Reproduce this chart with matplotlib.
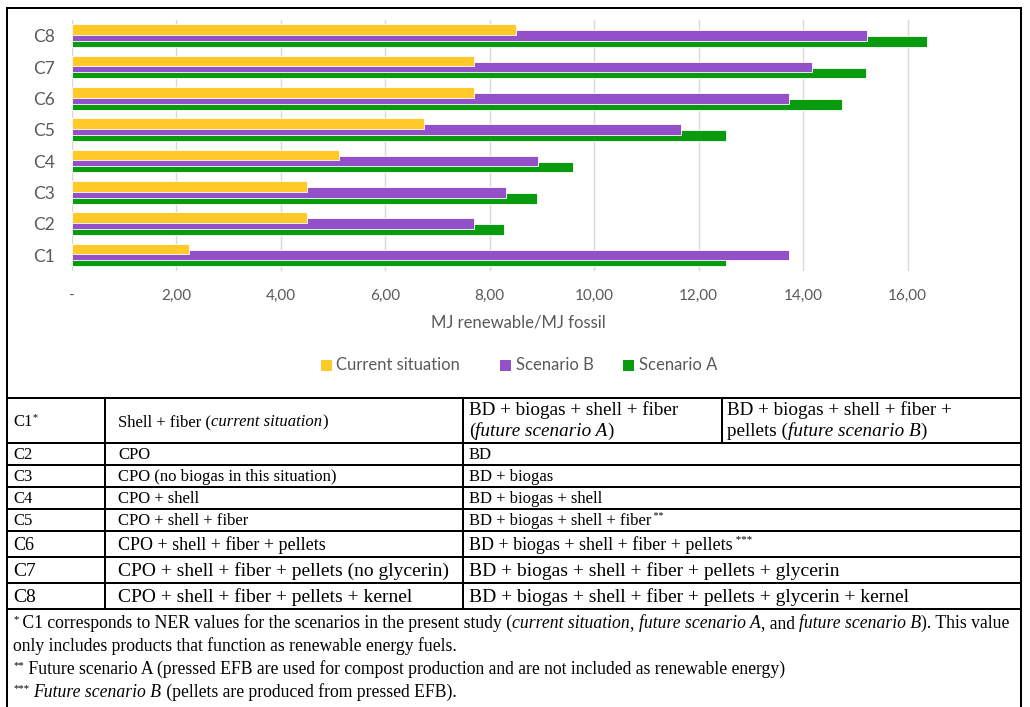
import matplotlib
matplotlib.use("Agg")
import matplotlib.pyplot as plt
from matplotlib.lines import Line2D
from matplotlib.patches import Rectangle
import numpy as np

# ---- data -------------------------------------------------------------
categories = ["C1", "C2", "C3", "C4", "C5", "C6", "C7", "C8"]
current_situation = [2.25, 4.50, 4.50, 5.11, 6.75, 7.69, 7.69, 8.50]
scenario_b = [13.73, 7.69, 8.31, 8.93, 11.66, 13.73, 14.16, 15.23]
scenario_a = [12.53, 8.27, 8.91, 9.59, 12.53, 14.75, 15.21, 16.36]
series_names = ["Current situation", "Scenario B", "Scenario A"]
tick_values = [0, 2, 4, 6, 8, 10, 12, 14, 16]
tick_labels = ["-", "2,00", "4,00", "6,00", "8,00", "10,00", "12,00", "14,00", "16,00"]
axis_title = "MJ renewable/MJ fossil"

table_rows = [
    ("C2", "CPO", "BD"),
    ("C3", "CPO (no biogas in this situation)", "BD + biogas"),
    ("C4", "CPO + shell", "BD + biogas + shell"),
    ("C5", "CPO + shell + fiber", "BD + biogas + shell + fiber"),
    ("C6", "CPO + shell + fiber + pellets", "BD + biogas + shell + fiber + pellets"),
    ("C7", "CPO + shell + fiber + pellets (no glycerin)",
     "BD + biogas + shell + fiber + pellets + glycerin"),
    ("C8", "CPO + shell + fiber + pellets + kernel",
     "BD + biogas + shell + fiber + pellets + glycerin + kernel"),
]
row_marks = {"C5": "**", "C6": "***"}

# ---- style ------------------------------------------------------------
YELLOW = "#FFC928"
PURPLE = "#9350C8"
GREEN = "#079B0D"
GREY_TXT = "#595959"
GRID = "#D9D9D9"
SANS = "Lato"
SERIF = "Liberation Serif"

W, H = 1030, 707
fig = plt.figure(figsize=(W / 100, H / 100), dpi=100)
fig.patch.set_facecolor("white")


def fx(px):
    return px / W


def fy(py):
    return 1 - py / H


# ---- bar chart --------------------------------------------------------
x0_px, x16_px = 71.7, 907.7
unit = (x16_px - x0_px) / 16
xmax = 17.9
ax_right = x0_px + xmax * unit
ax_top, ax_bot = 20.0, 270.7
ax = fig.add_axes([fx(x0_px), fy(ax_bot), fx(ax_right - x0_px), (ax_bot - ax_top) / H])
ax.set_xlim(0, xmax)
ax.set_ylim(-0.5, len(categories) - 0.5)

y = np.arange(len(categories))
h = 0.34
off = 0.19
kw = dict(height=h, edgecolor="white", linewidth=0.6, zorder=3)
ax.barh(y - off, scenario_a, color=GREEN, label=series_names[2], **kw)
ax.barh(y, scenario_b, color=PURPLE, label=series_names[1], **kw)
ax.barh(y + off, current_situation, color=YELLOW, label=series_names[0], **kw)

ax.set_xticks(tick_values)
ax.set_xticklabels(tick_labels)
ax.set_yticks(y)
ax.set_yticklabels(categories)
for s in ax.spines.values():
    s.set_visible(False)
ax.grid(axis="x", color=GRID, linewidth=1.0, zorder=0)
ax.axvline(0, color=GRID, linewidth=1.2, zorder=1)
ax.tick_params(axis="both", length=0, colors=GREY_TXT)
ax.tick_params(axis="x", pad=13, labelsize=11)
ax.tick_params(axis="y", pad=12, labelsize=12.5)
for lab in ax.get_xticklabels() + ax.get_yticklabels():
    lab.set_fontfamily(SANS)
    lab.set_color(GREY_TXT)

fig.text(fx(518), fy(322), axis_title, ha="center", va="center",
         fontsize=12, family=SANS, color=GREY_TXT)

# legend (Current situation, Scenario B, Scenario A)
leg_items = [(YELLOW, series_names[0], 321), (PURPLE, series_names[1], 500),
             (GREEN, series_names[2], 623.3)]
for col, name, xs in leg_items:
    fig.patches.append(Rectangle((fx(xs), fy(370.7)), fx(10.7), 10.7 / H,
                                 transform=fig.transFigure, facecolor=col,
                                 edgecolor="none"))
    fig.text(fx(xs + 15.5), fy(365.5), name, ha="left", va="center",
             fontsize=12, family=SANS, color=GREY_TXT)

# ---- frames and table -------------------------------------------------
LW = 2.0


def hline(py, xa, xb, lw=LW):
    fig.add_artist(Line2D([fx(xa), fx(xb)], [fy(py), fy(py)], color="black",
                          linewidth=lw * 0.72, transform=fig.transFigure,
                          solid_capstyle="projecting"))


def vline(px, ya, yb, lw=LW):
    fig.add_artist(Line2D([fx(px), fx(px)], [fy(ya), fy(yb)], color="black",
                          linewidth=lw * 0.72, transform=fig.transFigure,
                          solid_capstyle="projecting"))


L, R = 7, 1021
TOP, BOTTOM = 8, 707
hline(TOP, L, R)
vline(L, TOP, BOTTOM)
vline(R, TOP, BOTTOM)

row_edges = [398, 443, 465, 487, 509, 531, 557, 583, 609]
row_sizes = [12, 12, 12, 12, 13, 14, 14]
for e in row_edges:
    hline(e, L, R)
COL1, COL2, COL3 = 105, 463, 722
vline(COL1, row_edges[0], row_edges[-1])
vline(COL2, row_edges[0], row_edges[-1])
vline(COL3, row_edges[0], row_edges[1])

renderer = fig.canvas.get_renderer()


def runs(px, py, parts, size=12):
    """Draw consecutive text pieces (text, style, raised) on one baseline."""
    x = px
    for text, style, sup in parts:
        fs = size * 0.6 if sup else size
        t = fig.text(fx(x), fy(py - (size * 0.5 if sup else 0)), text, ha="left",
                     va="baseline", fontsize=fs, family=SERIF, style=style,
                     color="black")
        bb = t.get_window_extent(renderer=renderer)
        x += bb.width
    return x


# first row (C1)
runs(13, 426, [("C1", "normal", False), ("*", "normal", True)])
runs(118, 426, [("Shell + fiber (", "normal", False),
                ("current situation", "italic", False), (")", "normal", False)])
runs(469, 415, [("BD + biogas + shell + fiber", "normal", False)], size=13.8)
runs(469, 436, [("(", "normal", False), ("future scenario A", "italic", False),
                (")", "normal", False)], size=13.8)
runs(727, 415, [("BD + biogas + shell + fiber +", "normal", False)], size=13.8)
runs(727, 436, [("pellets (", "normal", False), ("future scenario B", "italic", False),
                (")", "normal", False)], size=13.8)

for i, (c, cur, fut) in enumerate(table_rows):
    top, bot = row_edges[i + 1], row_edges[i + 2]
    sz = row_sizes[i]
    base = (top + bot) / 2 + sz * 0.45
    runs(13, base, [(c, "normal", False)], size=sz)
    runs(118, base, [(cur, "normal", False)], size=sz)
    parts = [(fut, "normal", False)]
    if c in row_marks:
        parts.append((" " + row_marks[c], "normal", True))
    runs(469, base, parts, size=sz)

# footnotes
FN = 12.7
runs(13, 628, [("*", "normal", True), (" C1 corresponds to NER values for the scenarios in the present study (", "normal", False),
               ("current situation", "italic", False), (", ", "normal", False),
               ("future scenario A", "italic", False), (", and ", "normal", False),
               ("future scenario B", "italic", False), ("). This value", "normal", False)], size=FN)
runs(13, 651, [("only includes products that function as renewable energy fuels.", "normal", False)], size=FN)
runs(13, 674, [("**", "normal", True), (" Future scenario A (pressed EFB are used for compost production and are not included as renewable energy)", "normal", False)], size=FN)
runs(13, 697, [("***", "normal", True), (" ", "normal", False), ("Future scenario B", "italic", False),
               (" (pellets are produced from pressed EFB).", "normal", False)], size=FN)

fig.savefig("out.png", dpi=100, facecolor="white")
